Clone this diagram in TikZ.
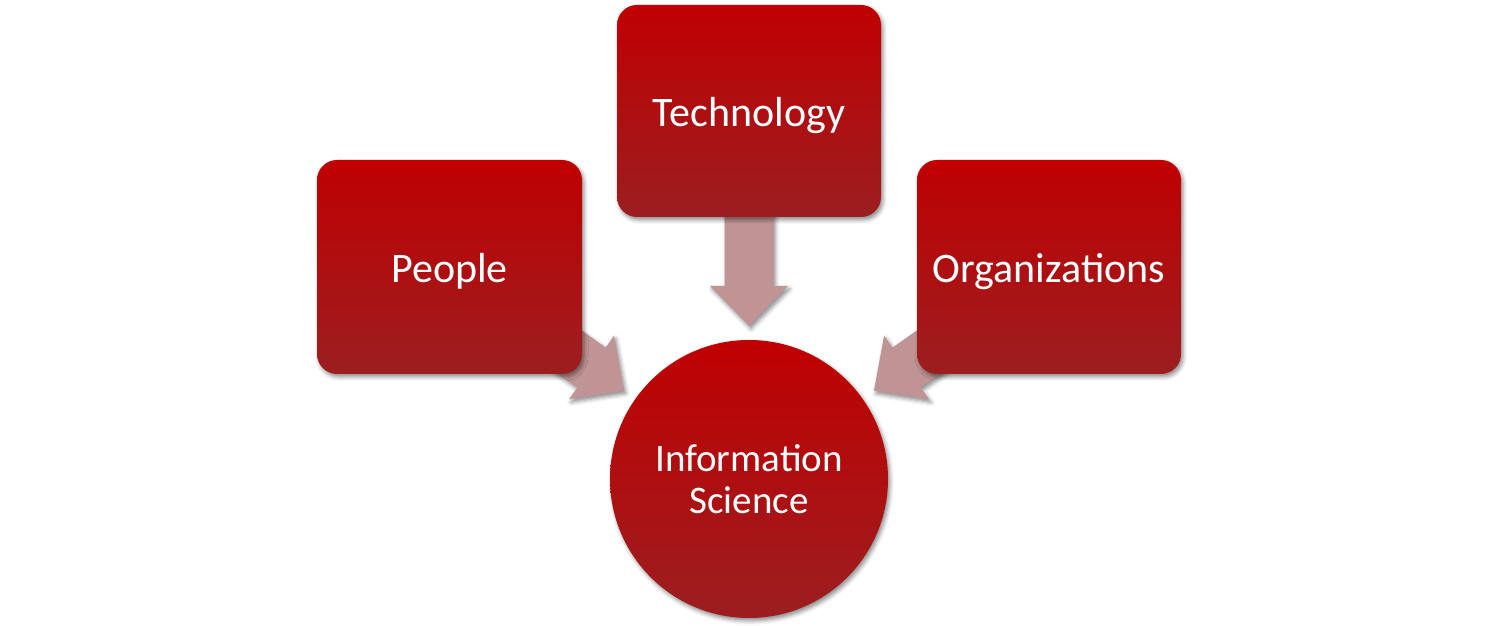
\documentclass[tikz,border=0pt]{standalone}
\usepackage{fontspec}
\setmainfont{Carlito}
\usetikzlibrary{calc,shadows.blur}

\definecolor{redtop}{RGB}{192,0,2}
\definecolor{redbot}{RGB}{156,30,32}
\definecolor{arrowrose}{RGB}{192,148,148}

\tikzset{
  every picture/.style={x=1pt,y=1pt},
  softshadow/.style={blur shadow={shadow xshift=2pt, shadow yshift=-3pt,
      shadow blur radius=4pt, shadow opacity=45}},
  panel/.style={rectangle, rounded corners=20pt, top color=redtop,
      bottom color=redbot, draw=none, text=white, align=center,
      font=\fontsize{42}{50}\selectfont, text height=31pt, text depth=0pt,
      softshadow},
  hub/.style={circle, top color=redtop, bottom color=redbot, draw=none,
      text=white, align=center, inner sep=0pt,
      font=\fontsize{39}{42}\selectfont, softshadow},
  feed/.style={fill=arrowrose, draw=none, softshadow},
}

% block arrow from box #1 toward the hub, tip just short of the circle
\newcommand\feedarrow[1]{%
  \path let \p1=($(#1.center)-(hub.center)$), \n1={atan2(\y1,\x1)} in
    coordinate (tip-#1) at ($(hub.center)!153pt!(#1.center)$)
    [feed] [shift={(tip-#1)}, rotate=\n1]
    (0,0) -- (40,39) -- (40,24.5) -- (150,24.5) -- (150,-24.5)
    -- (40,-24.5) -- (40,-39) -- cycle;
}

\begin{document}
\begin{tikzpicture}
\useasboundingbox (0,0) rectangle (1500,626);

% positions only (nodes drawn on top of the arrows below)
\coordinate (c-tech) at (749,515);
\coordinate (c-people) at (449.5,359);
\coordinate (c-org) at (1049,359);
\coordinate (c-hub) at (749,147);

\path (c-hub) node[circle, minimum size=278pt, inner sep=0pt] (hub) {};
\path (c-tech) node[minimum width=264pt, minimum height=212pt] (tech) {};
\path (c-people) node[minimum width=265pt, minimum height=214pt] (people) {};
\path (c-org) node[minimum width=264pt, minimum height=214pt] (org) {};

\feedarrow{tech}
\feedarrow{people}
\feedarrow{org}

\node[panel, minimum width=264pt, minimum height=212pt] at (c-tech) {Technology};
\node[panel, minimum width=265pt, minimum height=214pt] at (c-people) {People};
\node[panel, minimum width=264pt, minimum height=214pt] at (c-org) {Organizations};
\node[hub, minimum size=278pt] at (c-hub) {Information\\Science};
\end{tikzpicture}
\end{document}
